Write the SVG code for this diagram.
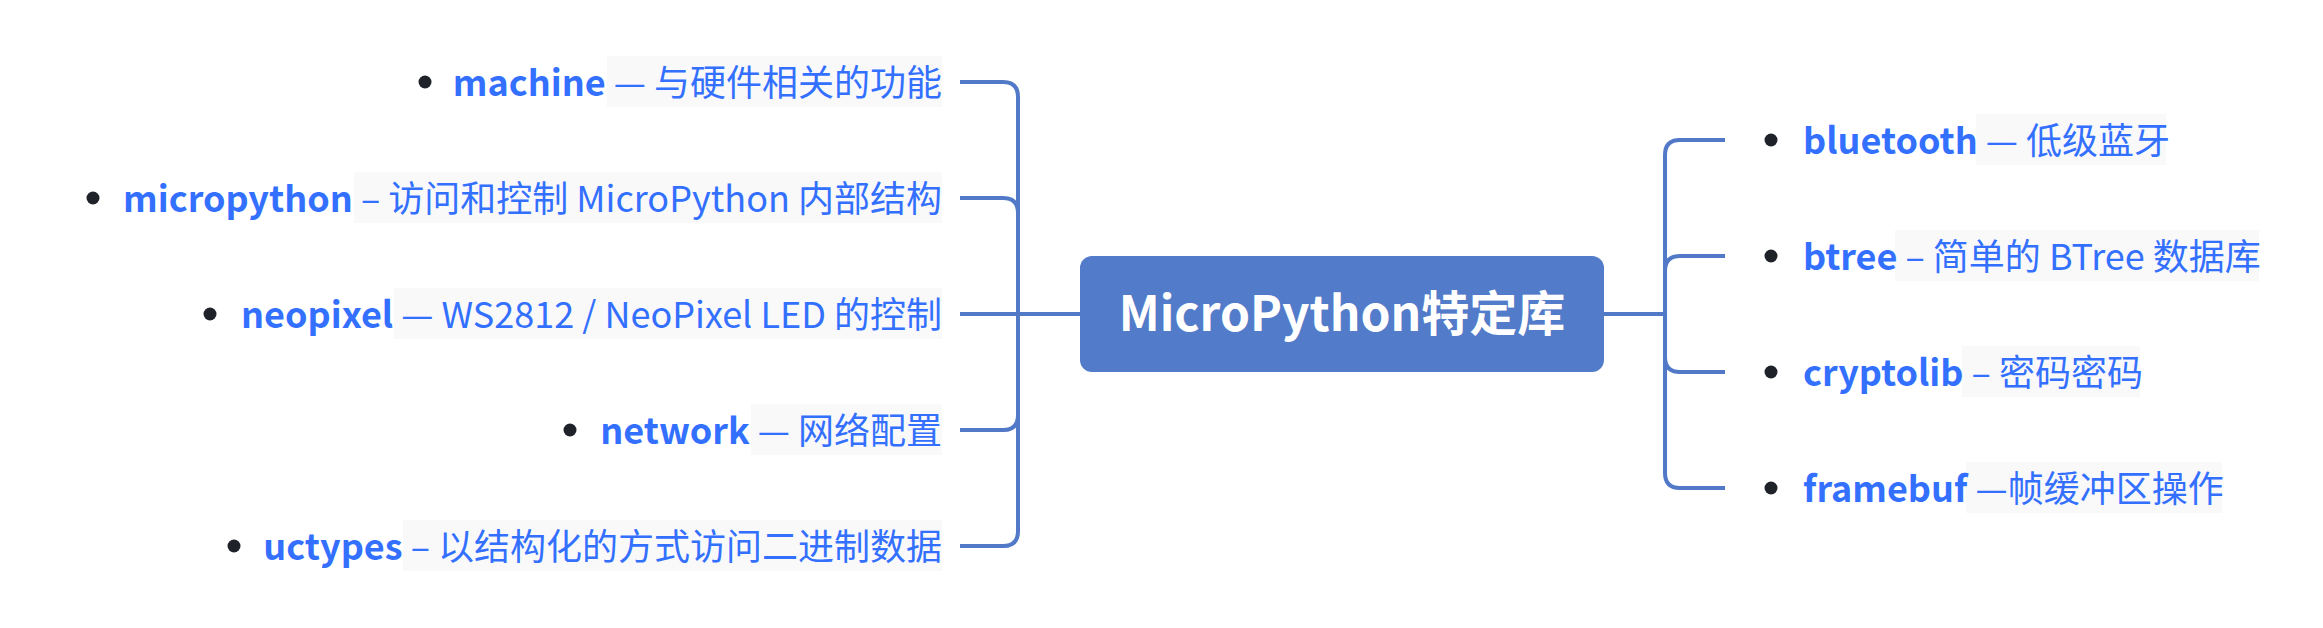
<svg xmlns="http://www.w3.org/2000/svg" width="2323" height="628" viewBox="0 0 2323 628">
  <style>
    .t { font-family: "Noto Sans CJK SC", "Noto Sans", sans-serif; font-size: 36px; fill: #3370ff; }
    .b { font-weight: bold; }
    .bg { fill: #f9f9fa; }
    .dot { fill: #1f2329; }
    .c { fill: none; stroke: #5179c8; stroke-width: 4; stroke-linecap: butt; }
    .root { fill: #527bc9; }
    .rt { font-family: "Noto Sans CJK SC", "Noto Sans", sans-serif; font-size: 48px; font-weight: bold; fill: #ffffff; }
  </style>
  <rect width="2323" height="628" fill="#ffffff"/>
  <g id="connectors">
    <path class="c" d="M1080 314 H960"/>
    <path class="c" d="M1018 314 V97 Q1018 82 1003 82 H960"/>
    <path class="c" d="M1018 314 V213 Q1018 198 1003 198 H960"/>
    <path class="c" d="M1018 314 V415 Q1018 430 1003 430 H960"/>
    <path class="c" d="M1018 314 V531 Q1018 546 1003 546 H960"/>
    <path class="c" d="M1604 314 H1665"/>
    <path class="c" d="M1665 314 V155 Q1665 140 1680 140 H1725"/>
    <path class="c" d="M1665 314 V271 Q1665 256 1680 256 H1725"/>
    <path class="c" d="M1665 314 V357 Q1665 372 1680 372 H1725"/>
    <path class="c" d="M1665 314 V473 Q1665 488 1680 488 H1725"/>
  </g>
  <g id="root">
    <rect class="root" x="1080" y="256" width="524" height="116" rx="12"/>
    <text class="rt" x="1342" y="331" text-anchor="middle">MicroPython特定库</text>
  </g>
  <g id="machine">
    <rect class="bg" x="607" y="56" width="335" height="51"/>
    <circle class="dot" cx="425" cy="82" r="6.5"/>
    <text class="t" x="942" y="96" text-anchor="end"><tspan class="b">machine</tspan> — 与硬件相关的功能</text>
  </g>
  <g id="micropython">
    <rect class="bg" x="354" y="172" width="588" height="51"/>
    <circle class="dot" cx="93" cy="198" r="6.5"/>
    <text class="t" x="942" y="212" text-anchor="end"><tspan class="b">micropython</tspan> – 访问和控制 MicroPython 内部结构</text>
  </g>
  <g id="neopixel">
    <rect class="bg" x="394" y="288" width="548" height="51"/>
    <circle class="dot" cx="210" cy="314" r="6.5"/>
    <text class="t" x="942" y="328" text-anchor="end"><tspan class="b">neopixel</tspan> — WS2812 / NeoPixel LED 的控制</text>
  </g>
  <g id="network">
    <rect class="bg" x="751" y="404" width="191" height="51"/>
    <circle class="dot" cx="570" cy="430" r="6.5"/>
    <text class="t" x="942" y="444" text-anchor="end"><tspan class="b">network</tspan> — 网络配置</text>
  </g>
  <g id="uctypes">
    <rect class="bg" x="403" y="520" width="539" height="51"/>
    <circle class="dot" cx="234" cy="546" r="6.5"/>
    <text class="t" x="942" y="560" text-anchor="end"><tspan class="b">uctypes</tspan> – 以结构化的方式访问二进制数据</text>
  </g>
  <g id="bluetooth">
    <rect class="bg" x="1976" y="114" width="190" height="51"/>
    <circle class="dot" cx="1771" cy="140" r="6.5"/>
    <text class="t" x="1803" y="154"><tspan class="b">bluetooth</tspan> — 低级蓝牙</text>
  </g>
  <g id="btree">
    <rect class="bg" x="1895" y="230" width="364" height="51"/>
    <circle class="dot" cx="1771" cy="256" r="6.5"/>
    <text class="t" x="1803" y="270"><tspan class="b">btree</tspan> – 简单的 BTree 数据库</text>
  </g>
  <g id="cryptolib">
    <rect class="bg" x="1962" y="346" width="178" height="51"/>
    <circle class="dot" cx="1771" cy="372" r="6.5"/>
    <text class="t" x="1803" y="386"><tspan class="b">cryptolib</tspan> – 密码密码</text>
  </g>
  <g id="framebuf">
    <rect class="bg" x="1966" y="462" width="256" height="51"/>
    <circle class="dot" cx="1771" cy="488" r="6.5"/>
    <text class="t" x="1803" y="502"><tspan class="b">framebuf</tspan> —帧缓冲区操作</text>
  </g>
</svg>
